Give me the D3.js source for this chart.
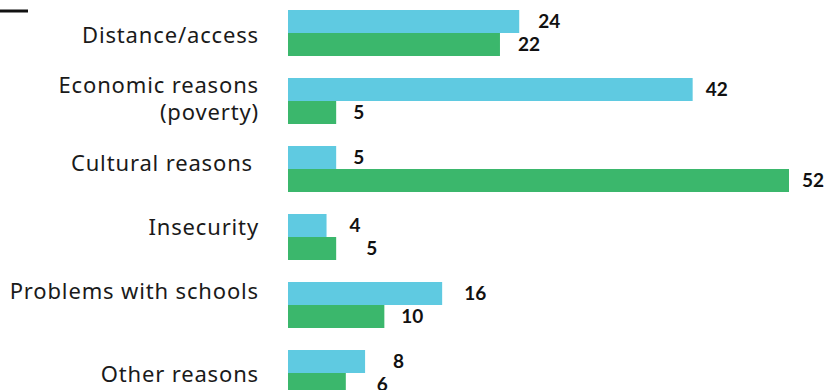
<!DOCTYPE html>
<html>
<head>
<meta charset="utf-8">
<script src="https://cdn.jsdelivr.net/npm/d3@7"></script>
<style>
  html, body { margin: 0; padding: 0; background: #fff; }
  svg { display: block; }
</style>
</head>
<body>
<svg id="chart" width="828" height="390"></svg>
<script>
// Reasons for being out of school (percent)
const categories = [
  ["Distance/access"],
  ["Economic reasons", "(poverty)"],
  ["Cultural reasons"],
  ["Insecurity"],
  ["Problems with schools"],
  ["Other reasons"]
];
const seriesA = [24, 42, 5, 4, 16, 8];
const seriesB = [22, 5, 52, 5, 10, 6];
const seriesKeys = ["A", "B"];

// layout / style
const seriesColors = { A: "#5fcae1", B: "#3bb76c" };
const catLabelShift = [2, -2, -6, -10, -14, 1];   // vertical nudge of each category label
const catLabelRight = [259, 259, 253, 259, 259, 259];
const valueGap = { A: [19, 13, 17, 23, 22, 28], B: [18, 17, 13, 30, 17, 31] }; // space between bar end and its value

const svg = d3.select("#chart");
const catNames = categories.map(c => c.join(" "));

const x = d3.scaleLinear().domain([0, 52]).range([288, 789]);
const y = d3.scaleBand().domain(catNames).range([10, 396]).paddingInner(0.3235).paddingOuter(0);
const ySub = d3.scaleBand().domain(seriesKeys).range([0, y.bandwidth()]);

// short legend rule at top-left
svg.append("rect").attr("x", 0).attr("y", 9.5).attr("width", 28).attr("height", 3).attr("fill", "#111");

const rows = catNames.map((name, i) => ({
  name, i, lines: categories[i],
  values: [{ key: "A", i, v: seriesA[i] }, { key: "B", i, v: seriesB[i] }]
}));

const g = svg.selectAll("g.row").data(rows).join("g")
  .attr("class", "row")
  .attr("transform", d => `translate(0,${y(d.name)})`);

g.selectAll("rect.bar").data(d => d.values).join("rect")
  .attr("class", "bar")
  .attr("x", x(0))
  .attr("y", d => ySub(d.key))
  .attr("width", d => x(d.v) - x(0))
  .attr("height", ySub.bandwidth())
  .attr("fill", d => seriesColors[d.key]);

g.selectAll("text.val").data(d => d.values).join("text")
  .attr("class", "val")
  .attr("x", d => x(d.v) + valueGap[d.key][d.i])
  .attr("y", d => ySub(d.key) + ySub.bandwidth() / 2)
  .attr("dy", "0.36em")
  .attr("font-family", "Lato, 'Open Sans', sans-serif")
  .attr("font-weight", 700)
  .attr("font-size", 19)
  .attr("fill", "#111")
  .text(d => d.v);

const lineH = 27;
g.append("text")
  .attr("class", "cat")
  .attr("text-anchor", "end")
  .attr("font-family", "'Noto Sans', sans-serif")
  .attr("font-size", 22)
  .attr("letter-spacing", 0.85)
  .attr("fill", "#1a1a1a")
  .each(function(d) {
    const n = d.lines.length;
    const t = d3.select(this);
    d.lines.forEach((ln, j) => {
      t.append("tspan")
        .attr("x", catLabelRight[d.i])
        .attr("y", y.bandwidth() / 2 + catLabelShift[d.i] + (j - (n - 1) / 2) * lineH)
        .attr("dy", "0.36em")
        .text(ln);
    });
  });
</script>
</body>
</html>
